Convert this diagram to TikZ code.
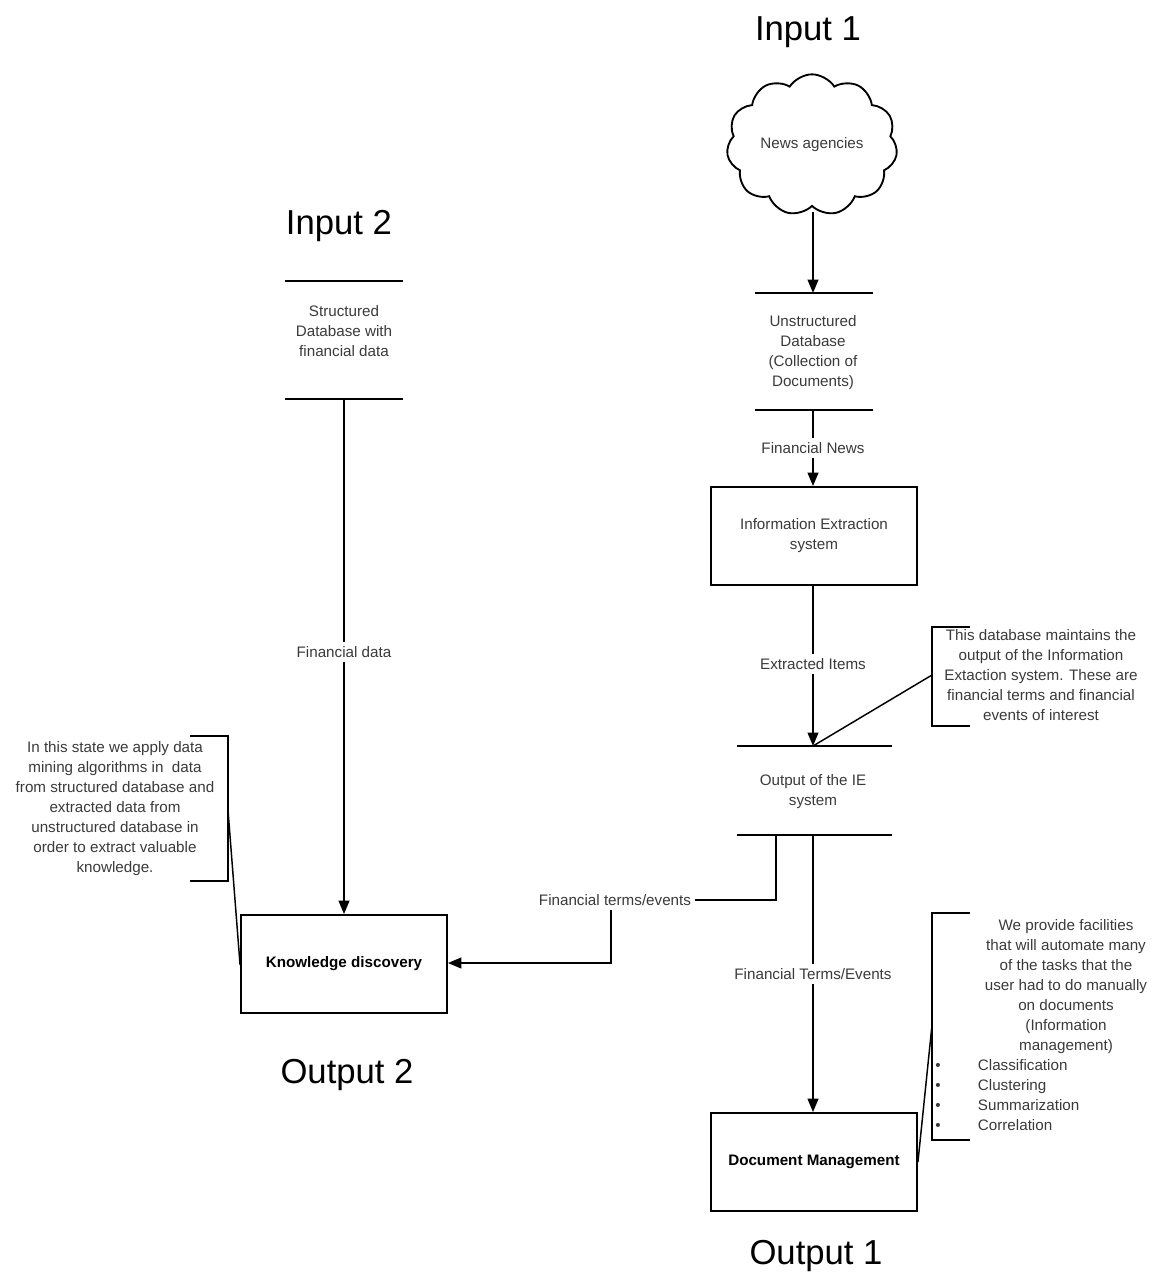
\documentclass[tikz,border=0pt]{standalone}
\usepackage{fontspec}
\setmainfont{Liberation Sans}
\usetikzlibrary{shapes.symbols,arrows.meta}
\definecolor{txt}{HTML}{3A3A3A}
\begin{document}
\begin{tikzpicture}[x=0.75pt,y=-0.75pt,
  txtnode/.style={font=\fontsize{11.4}{15}\selectfont, text=txt, align=center},
  lbl/.style={txtnode, fill=white, inner sep=3pt},
  big/.style={font=\fontsize{26}{30}\selectfont, text=black},
  proc/.style={draw, line width=1.4pt, minimum width=154.5pt, minimum height=73.5pt, align=center,
    font=\fontsize{11.4}{15}\selectfont\bfseries, text=black},
  ln/.style={line width=1.4pt},
  arr/.style={ln, -{Triangle[width=8pt,length=10pt]}},
  thin/.style={line width=1.1pt}]
\useasboundingbox (0,0) rectangle (1159,1278);

% ---------- titles
\node[big] (in1) at (808,32) {Input 1};
\node[big] (in2) at (339,226) {Input 2};
\node[big] (out2) at (347,1075) {Output 2};
\node[big] (out1) at (816,1256) {Output 1};

% ---------- cloud
\node[cloud, draw, line width=1.4pt, cloud puffs=11, cloud puff arc=115, aspect=1.3,
  minimum width=127pt, minimum height=100pt, txtnode] (cloud) at (812,145) {News agencies};
\coordinate (cloudB) at (813,212);

% ---------- unstructured database
\coordinate (udbT) at (813,293);
\coordinate (udbB) at (813,410);
\draw[ln] (755,293) -- (873,293);
\draw[ln] (755,410) -- (873,410);
\node[txtnode] (udb) at (813,353) {Unstructured\\Database\\(Collection of\\Documents)};

% ---------- IE box
\node[proc, font=\fontsize{11.4}{15}\selectfont, text=txt] (ie) at (814,536) {\raisebox{-2.2pt}{Information Extraction}\\\raisebox{-2.2pt}{system}};

% ---------- output DB
\coordinate (odbT) at (813,746);
\coordinate (odbB) at (813,835);
\coordinate (odbB2) at (776,835);
\draw[ln] (737,746) -- (892,746);
\draw[ln] (737,835) -- (892,835);
\node[txtnode] (odb) at (813,792) {Output of the IE\\system};

% ---------- structured DB
\coordinate (sdbB) at (344,399);
\draw[ln] (285,281) -- (403,281);
\draw[ln] (285,399) -- (403,399);
\node[txtnode] (sdb) at (344,331) {Structured\\Database with\\financial data};

% ---------- boxes
\node[proc] (kd) at (344,964) {\raisebox{-2pt}{Knowledge discovery}};
\node[proc] (dm) at (814,1162) {\raisebox{-3pt}{Document Management}};

% ---------- labels
\node[lbl] (fn) at (813,448) {Financial News};
\node[lbl] (ei) at (813,664) {Extracted Items};
\node[lbl] (fd) at (344,652) {Financial data};
\node[lbl] (fte) at (615,900) {Financial terms/events};
\node[lbl] (fte2) at (813,974) {Financial Terms/Events};

% ---------- connectors
\draw[arr] (cloudB) -- (udbT);
\draw[ln] (udbB) -- (fn);
\draw[arr] (fn) -- (ie.north -| fn);
\draw[ln] (ie.south -| ei) -- (ei);
\draw[arr] (ei) -- (odbT);
\draw[ln] (sdbB) -- (fd);
\draw[arr] (fd) -- (kd);
\draw[ln] (odbB2) |- (fte);
\draw[arr] (fte.south -| 611,0) -- (611,963) -- (kd.east |- 0,963);
\draw[ln] (odbB) -- (fte2);
\draw[arr] (fte2) -- (dm.north -| fte2);

% ---------- annotation 1
\draw[thin] (970,627) -- (932,627) -- (932,726) -- (970,726);
\coordinate (a1) at (932,675);
\draw[thin] (a1) -- (odbT);
\node[txtnode] (note1) at (1041,675) {This database maintains the\\output of the Information\\Extaction system. These are\\financial terms and financial\\events of interest};

% ---------- annotation 2
\draw[thin] (970,913) -- (932,913) -- (932,1140) -- (970,1140);
\coordinate (a2) at (932,1025);
\draw[thin] (a2) -- (dm.east |- 0,1162);
\node[txtnode] (note2) at (1066,987) {We provide facilities\\that will automate many\\of the tasks that the\\user had to do manually\\on documents\\(Information\\management)};
\node[txtnode, align=left, anchor=west, inner sep=0pt] (note2b) at (935,1095)
  {\makebox[32pt][l]{\textbullet}Classification\\\makebox[32pt][l]{\textbullet}Clustering\\\makebox[32pt][l]{\textbullet}Summarization\\\makebox[32pt][l]{\textbullet}Correlation};

% ---------- annotation 3
\draw[thin] (190,736) -- (228,736) -- (228,881) -- (190,881);
\coordinate (a3) at (228,810);
\draw[thin] (a3) -- (kd.west |- 0,965);
\node[txtnode] (note3) at (115,809) {In this state we apply data\\mining algorithms in\ \ data\\from structured database and\\extracted data from\\unstructured database in\\order to extract valuable\\knowledge.};
\end{tikzpicture}
\end{document}
